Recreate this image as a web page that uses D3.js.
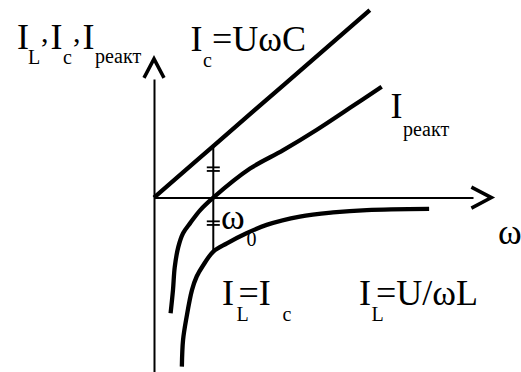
<!DOCTYPE html>
<html>
<head>
<meta charset="utf-8">
<script src="https://cdn.jsdelivr.net/npm/d3@7"></script>
<style>
  html, body { margin: 0; padding: 0; background: #fff; }
  #wrap { position: relative; width: 521px; height: 372px; overflow: hidden; }
  #chart { position: absolute; left: 0; top: 0; display: block; }
  .lbl { position: absolute; white-space: nowrap; line-height: 1;
         font-family: 'Liberation Serif', 'Times New Roman', serif; color: #000; }
</style>
</head>
<body>
<div id="wrap"><svg id="chart" width="521" height="372"></svg></div>
<script>
// Frequency ω (in units of the resonant frequency ω0) and currents (same scale)
const icOmega = [0, 1.0, 3.64];
const icValue = [0, 0.87, 3.16];

const reactOmega = [0.28, 0.32, 0.35, 0.41, 0.49, 0.61, 0.78, 1.00, 1.62, 2.18, 2.74, 3.30, 3.84];
const reactValue = [-1.95, -1.56, -1.17, -0.83, -0.60, -0.43, -0.21, 0, 0.49, 0.80, 1.14, 1.51, 1.87];

const ilOmega = [0.47, 0.49, 0.55, 0.64, 0.72, 0.83, 1.00, 1.23, 1.56, 1.90, 2.46, 3.02, 3.59, 4.64];
const ilValue = [-2.85, -2.40, -2.01, -1.56, -1.33, -1.14, -0.91, -0.77, -0.60, -0.46, -0.32, -0.25, -0.21, -0.19];

const omega0 = 1.0;
const equalMarks = [0.48, -0.43];   // "=" marks showing |I_L| = |I_c| at ω0

const svg = d3.select("#chart");

const x = d3.scaleLinear().domain([0, 5.38]).range([154, 473]);
const y = d3.scaleLinear().domain([-2.94, 2.0]).range([372, 79]);

// Axes (no ticks, just the lines) with open arrowheads
svg.append("g").attr("transform", `translate(0,${y(0)})`)
  .call(d3.axisBottom(x).tickValues([]).tickSizeOuter(0));
svg.append("g").attr("transform", `translate(${x(0)},0)`)
  .call(d3.axisLeft(y).tickValues([]).tickSizeOuter(0));
svg.selectAll(".domain").attr("stroke", "#000").attr("stroke-width", 2);

const arrow = (pts) => svg.append("path")
  .attr("d", d3.line()(pts))
  .attr("fill", "none").attr("stroke", "#000")
  .attr("stroke-width", 3.5).attr("stroke-linejoin", "miter");
const xTip = x(5.69), yTip = y(2.34);
arrow([[xTip - 20, y(0) - 10.5], [xTip, y(0)], [xTip - 20, y(0) + 10.5]]);
arrow([[x(0) - 10, yTip + 19], [x(0), yTip], [x(0) + 10, yTip + 19]]);

// Vertical marker at ω0 between I_c and I_L curves
const ilAt0 = ilValue[ilOmega.indexOf(omega0)];
const icAt0 = icValue[icOmega.indexOf(omega0)];
svg.append("line")
  .attr("x1", x(omega0)).attr("x2", x(omega0))
  .attr("y1", y(icAt0)).attr("y2", y(ilAt0))
  .attr("stroke", "#000").attr("stroke-width", 2);

equalMarks.forEach(v => {
  [-1.8, 1.8].forEach(dy => {
    svg.append("line")
      .attr("x1", x(omega0) - 6.5).attr("x2", x(omega0) + 6.5)
      .attr("y1", y(v) + dy).attr("y2", y(v) + dy)
      .attr("stroke", "#000").attr("stroke-width", 1.8);
  });
});

// Curves
const curve = d3.line().x(d => x(d[0])).y(d => y(d[1])).curve(d3.curveCatmullRom.alpha(0.5));
const drawCurve = (om, val) => svg.append("path")
  .attr("d", curve(om.map((w, i) => [w, val[i]])))
  .attr("fill", "none").attr("stroke", "#000")
  .attr("stroke-width", 4.3).attr("stroke-linecap", "butt");

drawCurve(icOmega, icValue);
drawCurve(reactOmega, reactValue);
drawCurve(ilOmega, ilValue);

// Labels as positioned text in a serif face: [string, x, baseline, size].
// With line-height 1, the baseline of Liberation Serif sits ~0.891em below the box top.
const BIG = 36, SUB = 20;
const wrap = d3.select("#wrap");
const label = (pieces) => pieces.forEach(([s, px, py, size]) => {
  wrap.append("span").attr("class", "lbl")
    .style("left", `${px}px`)
    .style("top", `${py - size * 0.891}px`)
    .style("font-size", `${size}px`)
    .text(s);
});

// I_L, I_c, I_реакт  (vertical axis title)
label([["I", 17, 51, BIG], ["L", 28, 65, SUB], [",", 41, 44, 30],
       ["I", 50.5, 51, BIG], ["c", 63, 65, SUB], [",", 73, 44, 30],
       ["I", 82.5, 51, BIG], ["реакт", 95, 63.5, SUB]]);

// I_c = UωC
label([["I", 190.5, 53, BIG], ["c", 203, 68, SUB], ["=UωC", 212, 53, BIG]]);

// I_реакт
label([["I", 390.5, 120, BIG], ["реакт", 403, 136.5, SUB]]);

// ω0
label([["ω", 221, 231.5, BIG], ["0", 246.5, 246.5, SUB]]);

// ω (horizontal axis title)
label([["ω", 498, 246, BIG]]);

// I_L = I_c
label([["I", 222, 306.7, BIG], ["L", 236.5, 321.7, SUB],
       ["=I", 238.5, 306.7, BIG], ["c", 282.5, 321.7, SUB]]);

// I_L = U/ωL
label([["I", 359, 306.7, BIG], ["L", 371.5, 321.7, SUB],
       ["=U/ωL", 376, 306.7, BIG]]);
</script>
</body>
</html>
